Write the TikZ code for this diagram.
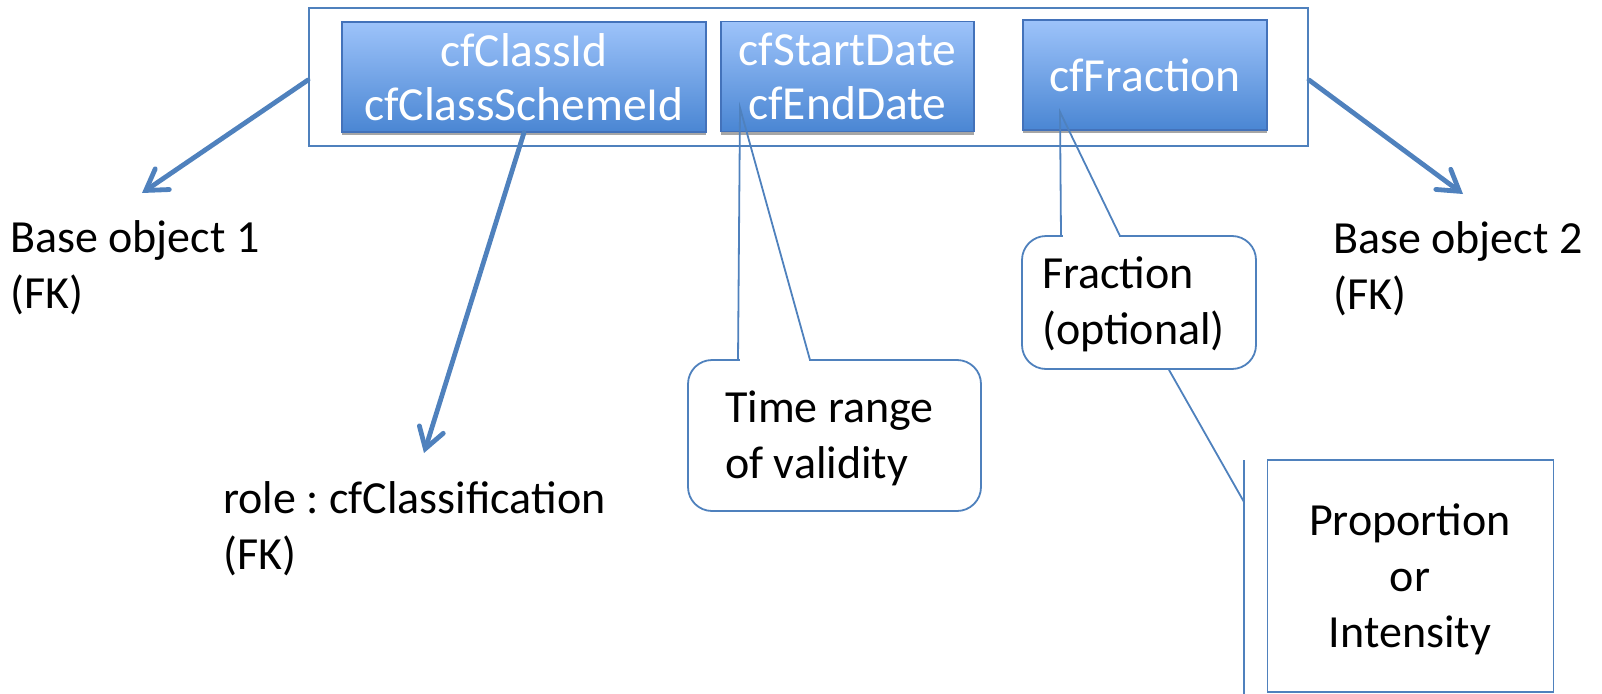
\documentclass[tikz,border=0pt]{standalone}
\usepackage{fontspec}
\setmainfont{Carlito}
\frenchspacing
\usetikzlibrary{arrows.meta,shadows}
\definecolor{ob}{HTML}{4F81BD}
\definecolor{btop}{HTML}{9DC3FA}
\definecolor{bbot}{HTML}{4A86D3}
\definecolor{bbord}{HTML}{4372BA}
\tikzset{
  cont/.style={draw=ob, line width=2pt, inner sep=0pt},
  fbox/.style={draw=bbord, line width=1.2pt, top color=btop, bottom color=bbot,
    drop shadow={shadow xshift=0pt,shadow yshift=-3pt,opacity=0.35,fill=black},
    text=white, font=\fontsize{47.5}{54}\selectfont, align=center, inner sep=0pt},
  lbl/.style={font=\fontsize{46}{56}\selectfont, align=left, inner sep=0pt, anchor=base west},
  bigarrow/.style={draw=ob, line width=4.8pt, line cap=round,
    -{Straight Barb[length=20pt,width=25pt,line cap=round]}},
  cline/.style={draw=ob, line width=1.8pt},
  callout/.style={draw=ob, line width=1.8pt, rounded corners=24pt, fill=white, inner sep=0pt},
}
\begin{document}
\begin{tikzpicture}[x=1pt,y=-1pt]
\useasboundingbox (0,0) rectangle (1602,693);
% container
\node[cont, minimum width=999pt, minimum height=138pt] (outer) at (808.5,77) {};
% field boxes
\node[fbox, minimum width=364pt, minimum height=110pt] (cls) at (524,77) {cfClassId\\cfClassSchemeId};
\node[fbox, minimum width=253pt, minimum height=110pt] (dates) at (847.5,76.5) {cfStartDate\\cfEndDate};
\node[fbox, minimum width=244pt, minimum height=110pt] (frac) at (1145,75) {cfFraction};
% labels (anchor = baseline of last line)
\node[lbl] (bo1) at (10,308) {Base object 1\\(FK)};
\node[lbl] (bo2) at (1333,309) {Base object 2\\(FK)};
\node[lbl] (role) at (223,569) {role : cfClassification\\(FK)};
% arrows
\coordinate (bo1tip) at (142,193);
\coordinate (bo2tip) at (1463,194);
\coordinate (roletip) at (424,453);
\draw[bigarrow] ([yshift=-3pt]outer.west) -- (bo1tip);
\draw[bigarrow] ([yshift=-3pt]outer.east) -- (bo2tip);
\draw[bigarrow] (cls.south) -- (roletip);
% time callout
\node[callout, minimum width=293pt, minimum height=151pt] (time) at (834.5,435.5) {};
\node[lbl] (timetxt) at (725,478) {Time range\\of validity};
\coordinate (timetip) at (740,108);
\coordinate (t1) at (738,360);
\coordinate (t2) at (810,360);
\fill[white] (739.5,357) rectangle (808.5,363);
\draw[cline] (t1) -- (timetip) -- (t2);
% fraction callout
\node[callout, minimum width=234pt, minimum height=133pt] (fcall) at (1139,302.5) {};
\node[lbl] (fractxt) at (1042,344) {Fraction\\(optional)};
\coordinate (fractip) at (1060,112);
\coordinate (f1) at (1061,236);
\coordinate (f2) at (1120,236);
\fill[white] (1062.5,233) rectangle (1119,239);
\draw[cline] (f1) -- (fractip) -- (f2);
% proportion callout (accent bar)
\node[draw=ob, line width=1.8pt, minimum width=286pt, minimum height=232pt, inner sep=0pt] (prop) at (1410.5,576) {};
\node[font=\fontsize{46}{56}\selectfont, align=center, inner sep=0pt, anchor=base] (proptxt) at (1410,647) {Proportion\\or\\Intensity};
\coordinate (bartop) at (1244,460);
\coordinate (barbot) at (1244,700);
\coordinate (barlead) at (1244,502);
\draw[cline] (bartop) -- (barbot);
\draw[cline] ([xshift=30pt]fcall.south) -- (barlead);
\end{tikzpicture}
\end{document}
